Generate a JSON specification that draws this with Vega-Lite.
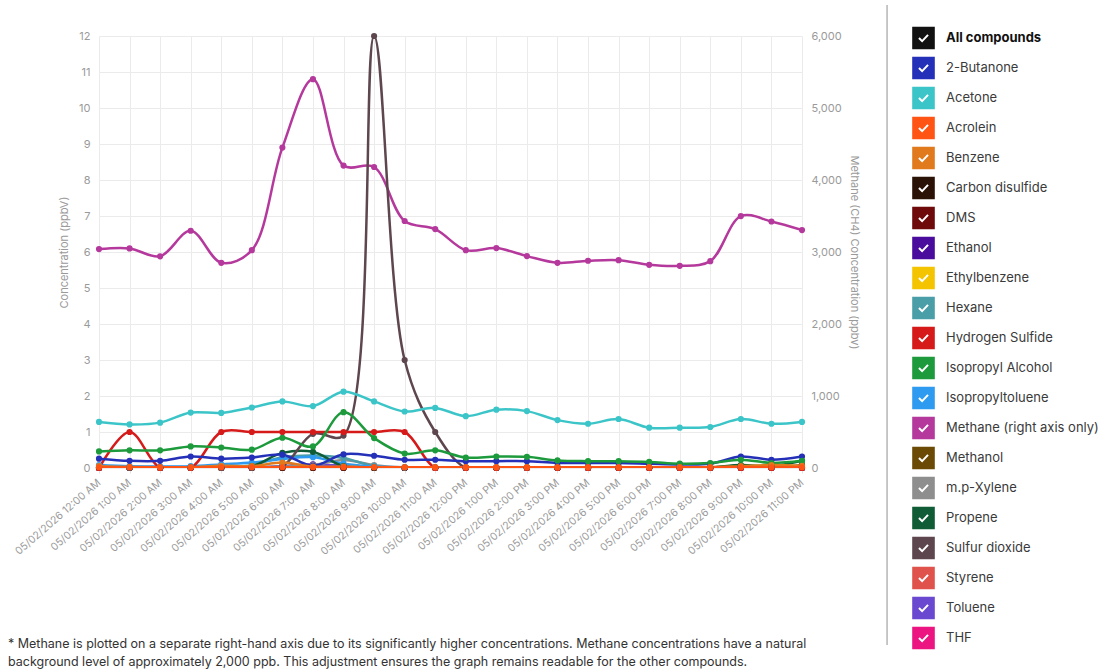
{
  "$schema": "https://vega.github.io/schema/vega-lite/v6.json",
  "autosize": {"type": "none"},
  "padding": {"left": 99, "top": 36, "right": 305, "bottom": 204},
  "width": 703,
  "height": 432,
  "background": "white",
  "title": {
    "text": [
      "* Methane is plotted on a separate right-hand axis due to its significantly higher concentrations. Methane concentrations have a natural",
      "background level of approximately 2,000 ppb. This adjustment ensures the graph remains readable for the other compounds."
    ],
    "orient": "bottom",
    "anchor": "start",
    "frame": "group",
    "dx": -91,
    "offset": -12,
    "fontSize": 12.5,
    "fontWeight": "normal",
    "color": "#333333",
    "lineHeight": 18.5,
    "font": "Inter"
  },
  "data": {
    "values": [
      {"h":"12:00 AM","c":"DMS","v":0},{"h":"1:00 AM","c":"DMS","v":0},{"h":"2:00 AM","c":"DMS","v":0},{"h":"3:00 AM","c":"DMS","v":0},{"h":"4:00 AM","c":"DMS","v":0},{"h":"5:00 AM","c":"DMS","v":0},{"h":"6:00 AM","c":"DMS","v":0},{"h":"7:00 AM","c":"DMS","v":0},{"h":"8:00 AM","c":"DMS","v":0},{"h":"9:00 AM","c":"DMS","v":0},{"h":"10:00 AM","c":"DMS","v":0},{"h":"11:00 AM","c":"DMS","v":0},{"h":"12:00 PM","c":"DMS","v":0},{"h":"1:00 PM","c":"DMS","v":0},{"h":"2:00 PM","c":"DMS","v":0},{"h":"3:00 PM","c":"DMS","v":0},{"h":"4:00 PM","c":"DMS","v":0},{"h":"5:00 PM","c":"DMS","v":0},{"h":"6:00 PM","c":"DMS","v":0},{"h":"7:00 PM","c":"DMS","v":0},{"h":"8:00 PM","c":"DMS","v":0},{"h":"9:00 PM","c":"DMS","v":0},{"h":"10:00 PM","c":"DMS","v":0},{"h":"11:00 PM","c":"DMS","v":0},
      {"h":"12:00 AM","c":"Ethylbenzene","v":0},{"h":"1:00 AM","c":"Ethylbenzene","v":0},{"h":"2:00 AM","c":"Ethylbenzene","v":0},{"h":"3:00 AM","c":"Ethylbenzene","v":0},{"h":"4:00 AM","c":"Ethylbenzene","v":0},{"h":"5:00 AM","c":"Ethylbenzene","v":0},{"h":"6:00 AM","c":"Ethylbenzene","v":0},{"h":"7:00 AM","c":"Ethylbenzene","v":0},{"h":"8:00 AM","c":"Ethylbenzene","v":0},{"h":"9:00 AM","c":"Ethylbenzene","v":0},{"h":"10:00 AM","c":"Ethylbenzene","v":0},{"h":"11:00 AM","c":"Ethylbenzene","v":0},{"h":"12:00 PM","c":"Ethylbenzene","v":0},{"h":"1:00 PM","c":"Ethylbenzene","v":0},{"h":"2:00 PM","c":"Ethylbenzene","v":0},{"h":"3:00 PM","c":"Ethylbenzene","v":0},{"h":"4:00 PM","c":"Ethylbenzene","v":0},{"h":"5:00 PM","c":"Ethylbenzene","v":0},{"h":"6:00 PM","c":"Ethylbenzene","v":0},{"h":"7:00 PM","c":"Ethylbenzene","v":0},{"h":"8:00 PM","c":"Ethylbenzene","v":0},{"h":"9:00 PM","c":"Ethylbenzene","v":0},{"h":"10:00 PM","c":"Ethylbenzene","v":0},{"h":"11:00 PM","c":"Ethylbenzene","v":0},
      {"h":"12:00 AM","c":"Methanol","v":0},{"h":"1:00 AM","c":"Methanol","v":0},{"h":"2:00 AM","c":"Methanol","v":0},{"h":"3:00 AM","c":"Methanol","v":0},{"h":"4:00 AM","c":"Methanol","v":0},{"h":"5:00 AM","c":"Methanol","v":0},{"h":"6:00 AM","c":"Methanol","v":0},{"h":"7:00 AM","c":"Methanol","v":0},{"h":"8:00 AM","c":"Methanol","v":0},{"h":"9:00 AM","c":"Methanol","v":0},{"h":"10:00 AM","c":"Methanol","v":0},{"h":"11:00 AM","c":"Methanol","v":0},{"h":"12:00 PM","c":"Methanol","v":0},{"h":"1:00 PM","c":"Methanol","v":0},{"h":"2:00 PM","c":"Methanol","v":0},{"h":"3:00 PM","c":"Methanol","v":0},{"h":"4:00 PM","c":"Methanol","v":0},{"h":"5:00 PM","c":"Methanol","v":0},{"h":"6:00 PM","c":"Methanol","v":0},{"h":"7:00 PM","c":"Methanol","v":0},{"h":"8:00 PM","c":"Methanol","v":0},{"h":"9:00 PM","c":"Methanol","v":0},{"h":"10:00 PM","c":"Methanol","v":0},{"h":"11:00 PM","c":"Methanol","v":0},
      {"h":"12:00 AM","c":"Styrene","v":0},{"h":"1:00 AM","c":"Styrene","v":0},{"h":"2:00 AM","c":"Styrene","v":0},{"h":"3:00 AM","c":"Styrene","v":0},{"h":"4:00 AM","c":"Styrene","v":0},{"h":"5:00 AM","c":"Styrene","v":0},{"h":"6:00 AM","c":"Styrene","v":0},{"h":"7:00 AM","c":"Styrene","v":0},{"h":"8:00 AM","c":"Styrene","v":0},{"h":"9:00 AM","c":"Styrene","v":0},{"h":"10:00 AM","c":"Styrene","v":0},{"h":"11:00 AM","c":"Styrene","v":0},{"h":"12:00 PM","c":"Styrene","v":0},{"h":"1:00 PM","c":"Styrene","v":0},{"h":"2:00 PM","c":"Styrene","v":0},{"h":"3:00 PM","c":"Styrene","v":0},{"h":"4:00 PM","c":"Styrene","v":0},{"h":"5:00 PM","c":"Styrene","v":0},{"h":"6:00 PM","c":"Styrene","v":0},{"h":"7:00 PM","c":"Styrene","v":0},{"h":"8:00 PM","c":"Styrene","v":0},{"h":"9:00 PM","c":"Styrene","v":0},{"h":"10:00 PM","c":"Styrene","v":0},{"h":"11:00 PM","c":"Styrene","v":0},
      {"h":"12:00 AM","c":"THF","v":0},{"h":"1:00 AM","c":"THF","v":0},{"h":"2:00 AM","c":"THF","v":0},{"h":"3:00 AM","c":"THF","v":0},{"h":"4:00 AM","c":"THF","v":0},{"h":"5:00 AM","c":"THF","v":0},{"h":"6:00 AM","c":"THF","v":0},{"h":"7:00 AM","c":"THF","v":0},{"h":"8:00 AM","c":"THF","v":0},{"h":"9:00 AM","c":"THF","v":0},{"h":"10:00 AM","c":"THF","v":0},{"h":"11:00 AM","c":"THF","v":0},{"h":"12:00 PM","c":"THF","v":0},{"h":"1:00 PM","c":"THF","v":0},{"h":"2:00 PM","c":"THF","v":0},{"h":"3:00 PM","c":"THF","v":0},{"h":"4:00 PM","c":"THF","v":0},{"h":"5:00 PM","c":"THF","v":0},{"h":"6:00 PM","c":"THF","v":0},{"h":"7:00 PM","c":"THF","v":0},{"h":"8:00 PM","c":"THF","v":0},{"h":"9:00 PM","c":"THF","v":0},{"h":"10:00 PM","c":"THF","v":0},{"h":"11:00 PM","c":"THF","v":0},
      {"h":"12:00 AM","c":"Ethanol","v":0},{"h":"1:00 AM","c":"Ethanol","v":0},{"h":"2:00 AM","c":"Ethanol","v":0},{"h":"3:00 AM","c":"Ethanol","v":0},{"h":"4:00 AM","c":"Ethanol","v":0},{"h":"5:00 AM","c":"Ethanol","v":0},{"h":"6:00 AM","c":"Ethanol","v":0.05},{"h":"7:00 AM","c":"Ethanol","v":0.1},{"h":"8:00 AM","c":"Ethanol","v":0.05},{"h":"9:00 AM","c":"Ethanol","v":0},{"h":"10:00 AM","c":"Ethanol","v":0},{"h":"11:00 AM","c":"Ethanol","v":0},{"h":"12:00 PM","c":"Ethanol","v":0},{"h":"1:00 PM","c":"Ethanol","v":0},{"h":"2:00 PM","c":"Ethanol","v":0},{"h":"3:00 PM","c":"Ethanol","v":0},{"h":"4:00 PM","c":"Ethanol","v":0},{"h":"5:00 PM","c":"Ethanol","v":0},{"h":"6:00 PM","c":"Ethanol","v":0},{"h":"7:00 PM","c":"Ethanol","v":0},{"h":"8:00 PM","c":"Ethanol","v":0},{"h":"9:00 PM","c":"Ethanol","v":0},{"h":"10:00 PM","c":"Ethanol","v":0},{"h":"11:00 PM","c":"Ethanol","v":0},
      {"h":"12:00 AM","c":"Toluene","v":0},{"h":"1:00 AM","c":"Toluene","v":0},{"h":"2:00 AM","c":"Toluene","v":0},{"h":"3:00 AM","c":"Toluene","v":0},{"h":"4:00 AM","c":"Toluene","v":0},{"h":"5:00 AM","c":"Toluene","v":0},{"h":"6:00 AM","c":"Toluene","v":0.02},{"h":"7:00 AM","c":"Toluene","v":0.06},{"h":"8:00 AM","c":"Toluene","v":0.08},{"h":"9:00 AM","c":"Toluene","v":0.02},{"h":"10:00 AM","c":"Toluene","v":0},{"h":"11:00 AM","c":"Toluene","v":0},{"h":"12:00 PM","c":"Toluene","v":0},{"h":"1:00 PM","c":"Toluene","v":0},{"h":"2:00 PM","c":"Toluene","v":0},{"h":"3:00 PM","c":"Toluene","v":0},{"h":"4:00 PM","c":"Toluene","v":0},{"h":"5:00 PM","c":"Toluene","v":0},{"h":"6:00 PM","c":"Toluene","v":0},{"h":"7:00 PM","c":"Toluene","v":0},{"h":"8:00 PM","c":"Toluene","v":0},{"h":"9:00 PM","c":"Toluene","v":0},{"h":"10:00 PM","c":"Toluene","v":0},{"h":"11:00 PM","c":"Toluene","v":0},
      {"h":"12:00 AM","c":"Carbon disulfide","v":0},{"h":"1:00 AM","c":"Carbon disulfide","v":0},{"h":"2:00 AM","c":"Carbon disulfide","v":0},{"h":"3:00 AM","c":"Carbon disulfide","v":0},{"h":"4:00 AM","c":"Carbon disulfide","v":0},{"h":"5:00 AM","c":"Carbon disulfide","v":0},{"h":"6:00 AM","c":"Carbon disulfide","v":0},{"h":"7:00 AM","c":"Carbon disulfide","v":0},{"h":"8:00 AM","c":"Carbon disulfide","v":0},{"h":"9:00 AM","c":"Carbon disulfide","v":0},{"h":"10:00 AM","c":"Carbon disulfide","v":0},{"h":"11:00 AM","c":"Carbon disulfide","v":0},{"h":"12:00 PM","c":"Carbon disulfide","v":0},{"h":"1:00 PM","c":"Carbon disulfide","v":0},{"h":"2:00 PM","c":"Carbon disulfide","v":0},{"h":"3:00 PM","c":"Carbon disulfide","v":0},{"h":"4:00 PM","c":"Carbon disulfide","v":0},{"h":"5:00 PM","c":"Carbon disulfide","v":0},{"h":"6:00 PM","c":"Carbon disulfide","v":0},{"h":"7:00 PM","c":"Carbon disulfide","v":0},{"h":"8:00 PM","c":"Carbon disulfide","v":0.01},{"h":"9:00 PM","c":"Carbon disulfide","v":0.06},{"h":"10:00 PM","c":"Carbon disulfide","v":0.02},{"h":"11:00 PM","c":"Carbon disulfide","v":0.08},
      {"h":"12:00 AM","c":"m.p-Xylene","v":0},{"h":"1:00 AM","c":"m.p-Xylene","v":0},{"h":"2:00 AM","c":"m.p-Xylene","v":0},{"h":"3:00 AM","c":"m.p-Xylene","v":0},{"h":"4:00 AM","c":"m.p-Xylene","v":0},{"h":"5:00 AM","c":"m.p-Xylene","v":0.02},{"h":"6:00 AM","c":"m.p-Xylene","v":0.04},{"h":"7:00 AM","c":"m.p-Xylene","v":0.08},{"h":"8:00 AM","c":"m.p-Xylene","v":0.22},{"h":"9:00 AM","c":"m.p-Xylene","v":0.08},{"h":"10:00 AM","c":"m.p-Xylene","v":0.02},{"h":"11:00 AM","c":"m.p-Xylene","v":0},{"h":"12:00 PM","c":"m.p-Xylene","v":0},{"h":"1:00 PM","c":"m.p-Xylene","v":0},{"h":"2:00 PM","c":"m.p-Xylene","v":0},{"h":"3:00 PM","c":"m.p-Xylene","v":0},{"h":"4:00 PM","c":"m.p-Xylene","v":0},{"h":"5:00 PM","c":"m.p-Xylene","v":0},{"h":"6:00 PM","c":"m.p-Xylene","v":0},{"h":"7:00 PM","c":"m.p-Xylene","v":0},{"h":"8:00 PM","c":"m.p-Xylene","v":0},{"h":"9:00 PM","c":"m.p-Xylene","v":0},{"h":"10:00 PM","c":"m.p-Xylene","v":0},{"h":"11:00 PM","c":"m.p-Xylene","v":0},
      {"h":"12:00 AM","c":"Hexane","v":0.05},{"h":"1:00 AM","c":"Hexane","v":0.03},{"h":"2:00 AM","c":"Hexane","v":0.03},{"h":"3:00 AM","c":"Hexane","v":0.03},{"h":"4:00 AM","c":"Hexane","v":0.05},{"h":"5:00 AM","c":"Hexane","v":0.08},{"h":"6:00 AM","c":"Hexane","v":0.3},{"h":"7:00 AM","c":"Hexane","v":0.35},{"h":"8:00 AM","c":"Hexane","v":0.28},{"h":"9:00 AM","c":"Hexane","v":0.05},{"h":"10:00 AM","c":"Hexane","v":0.02},{"h":"11:00 AM","c":"Hexane","v":0.02},{"h":"12:00 PM","c":"Hexane","v":0.02},{"h":"1:00 PM","c":"Hexane","v":0.02},{"h":"2:00 PM","c":"Hexane","v":0.02},{"h":"3:00 PM","c":"Hexane","v":0.02},{"h":"4:00 PM","c":"Hexane","v":0.02},{"h":"5:00 PM","c":"Hexane","v":0.02},{"h":"6:00 PM","c":"Hexane","v":0.02},{"h":"7:00 PM","c":"Hexane","v":0.02},{"h":"8:00 PM","c":"Hexane","v":0.02},{"h":"9:00 PM","c":"Hexane","v":0.02},{"h":"10:00 PM","c":"Hexane","v":0.02},{"h":"11:00 PM","c":"Hexane","v":0.02},
      {"h":"12:00 AM","c":"Isopropyltoluene","v":0.08},{"h":"1:00 AM","c":"Isopropyltoluene","v":0.05},{"h":"2:00 AM","c":"Isopropyltoluene","v":0.04},{"h":"3:00 AM","c":"Isopropyltoluene","v":0.05},{"h":"4:00 AM","c":"Isopropyltoluene","v":0.1},{"h":"5:00 AM","c":"Isopropyltoluene","v":0.15},{"h":"6:00 AM","c":"Isopropyltoluene","v":0.25},{"h":"7:00 AM","c":"Isopropyltoluene","v":0.3},{"h":"8:00 AM","c":"Isopropyltoluene","v":0.12},{"h":"9:00 AM","c":"Isopropyltoluene","v":0.04},{"h":"10:00 AM","c":"Isopropyltoluene","v":0.02},{"h":"11:00 AM","c":"Isopropyltoluene","v":0.02},{"h":"12:00 PM","c":"Isopropyltoluene","v":0.02},{"h":"1:00 PM","c":"Isopropyltoluene","v":0.02},{"h":"2:00 PM","c":"Isopropyltoluene","v":0.02},{"h":"3:00 PM","c":"Isopropyltoluene","v":0.02},{"h":"4:00 PM","c":"Isopropyltoluene","v":0.02},{"h":"5:00 PM","c":"Isopropyltoluene","v":0.02},{"h":"6:00 PM","c":"Isopropyltoluene","v":0.02},{"h":"7:00 PM","c":"Isopropyltoluene","v":0.02},{"h":"8:00 PM","c":"Isopropyltoluene","v":0.02},{"h":"9:00 PM","c":"Isopropyltoluene","v":0.02},{"h":"10:00 PM","c":"Isopropyltoluene","v":0.02},{"h":"11:00 PM","c":"Isopropyltoluene","v":0.02},
      {"h":"12:00 AM","c":"Propene","v":0.02},{"h":"1:00 AM","c":"Propene","v":0.02},{"h":"2:00 AM","c":"Propene","v":0.02},{"h":"3:00 AM","c":"Propene","v":0.02},{"h":"4:00 AM","c":"Propene","v":0.02},{"h":"5:00 AM","c":"Propene","v":0.05},{"h":"6:00 AM","c":"Propene","v":0.42},{"h":"7:00 AM","c":"Propene","v":0.45},{"h":"8:00 AM","c":"Propene","v":0.05},{"h":"9:00 AM","c":"Propene","v":0.02},{"h":"10:00 AM","c":"Propene","v":0.02},{"h":"11:00 AM","c":"Propene","v":0.02},{"h":"12:00 PM","c":"Propene","v":0.02},{"h":"1:00 PM","c":"Propene","v":0.02},{"h":"2:00 PM","c":"Propene","v":0.02},{"h":"3:00 PM","c":"Propene","v":0.02},{"h":"4:00 PM","c":"Propene","v":0.02},{"h":"5:00 PM","c":"Propene","v":0.02},{"h":"6:00 PM","c":"Propene","v":0.02},{"h":"7:00 PM","c":"Propene","v":0.02},{"h":"8:00 PM","c":"Propene","v":0.02},{"h":"9:00 PM","c":"Propene","v":0.08},{"h":"10:00 PM","c":"Propene","v":0.05},{"h":"11:00 PM","c":"Propene","v":0.2},
      {"h":"12:00 AM","c":"Sulfur dioxide","v":0},{"h":"1:00 AM","c":"Sulfur dioxide","v":0},{"h":"2:00 AM","c":"Sulfur dioxide","v":0},{"h":"3:00 AM","c":"Sulfur dioxide","v":0},{"h":"4:00 AM","c":"Sulfur dioxide","v":0},{"h":"5:00 AM","c":"Sulfur dioxide","v":0},{"h":"6:00 AM","c":"Sulfur dioxide","v":0.05},{"h":"7:00 AM","c":"Sulfur dioxide","v":0.95},{"h":"8:00 AM","c":"Sulfur dioxide","v":0.9},{"h":"9:00 AM","c":"Sulfur dioxide","v":12},{"h":"10:00 AM","c":"Sulfur dioxide","v":3},{"h":"11:00 AM","c":"Sulfur dioxide","v":1},{"h":"12:00 PM","c":"Sulfur dioxide","v":0},{"h":"1:00 PM","c":"Sulfur dioxide","v":0},{"h":"2:00 PM","c":"Sulfur dioxide","v":0},{"h":"3:00 PM","c":"Sulfur dioxide","v":0},{"h":"4:00 PM","c":"Sulfur dioxide","v":0},{"h":"5:00 PM","c":"Sulfur dioxide","v":0},{"h":"6:00 PM","c":"Sulfur dioxide","v":0},{"h":"7:00 PM","c":"Sulfur dioxide","v":0},{"h":"8:00 PM","c":"Sulfur dioxide","v":0},{"h":"9:00 PM","c":"Sulfur dioxide","v":0},{"h":"10:00 PM","c":"Sulfur dioxide","v":0},{"h":"11:00 PM","c":"Sulfur dioxide","v":0},
      {"h":"12:00 AM","c":"Hydrogen Sulfide","v":0},{"h":"1:00 AM","c":"Hydrogen Sulfide","v":1},{"h":"2:00 AM","c":"Hydrogen Sulfide","v":0},{"h":"3:00 AM","c":"Hydrogen Sulfide","v":0},{"h":"4:00 AM","c":"Hydrogen Sulfide","v":1},{"h":"5:00 AM","c":"Hydrogen Sulfide","v":1},{"h":"6:00 AM","c":"Hydrogen Sulfide","v":1},{"h":"7:00 AM","c":"Hydrogen Sulfide","v":1},{"h":"8:00 AM","c":"Hydrogen Sulfide","v":1},{"h":"9:00 AM","c":"Hydrogen Sulfide","v":1},{"h":"10:00 AM","c":"Hydrogen Sulfide","v":1},{"h":"11:00 AM","c":"Hydrogen Sulfide","v":0},{"h":"12:00 PM","c":"Hydrogen Sulfide","v":0},{"h":"1:00 PM","c":"Hydrogen Sulfide","v":0},{"h":"2:00 PM","c":"Hydrogen Sulfide","v":0},{"h":"3:00 PM","c":"Hydrogen Sulfide","v":0},{"h":"4:00 PM","c":"Hydrogen Sulfide","v":0},{"h":"5:00 PM","c":"Hydrogen Sulfide","v":0},{"h":"6:00 PM","c":"Hydrogen Sulfide","v":0},{"h":"7:00 PM","c":"Hydrogen Sulfide","v":0},{"h":"8:00 PM","c":"Hydrogen Sulfide","v":0},{"h":"9:00 PM","c":"Hydrogen Sulfide","v":0},{"h":"10:00 PM","c":"Hydrogen Sulfide","v":0},{"h":"11:00 PM","c":"Hydrogen Sulfide","v":0},
      {"h":"12:00 AM","c":"2-Butanone","v":0.26},{"h":"1:00 AM","c":"2-Butanone","v":0.2},{"h":"2:00 AM","c":"2-Butanone","v":0.2},{"h":"3:00 AM","c":"2-Butanone","v":0.32},{"h":"4:00 AM","c":"2-Butanone","v":0.26},{"h":"5:00 AM","c":"2-Butanone","v":0.29},{"h":"6:00 AM","c":"2-Butanone","v":0.37},{"h":"7:00 AM","c":"2-Butanone","v":0.06},{"h":"8:00 AM","c":"2-Butanone","v":0.38},{"h":"9:00 AM","c":"2-Butanone","v":0.34},{"h":"10:00 AM","c":"2-Butanone","v":0.23},{"h":"11:00 AM","c":"2-Butanone","v":0.23},{"h":"12:00 PM","c":"2-Butanone","v":0.19},{"h":"1:00 PM","c":"2-Butanone","v":0.19},{"h":"2:00 PM","c":"2-Butanone","v":0.19},{"h":"3:00 PM","c":"2-Butanone","v":0.14},{"h":"4:00 PM","c":"2-Butanone","v":0.14},{"h":"5:00 PM","c":"2-Butanone","v":0.14},{"h":"6:00 PM","c":"2-Butanone","v":0.12},{"h":"7:00 PM","c":"2-Butanone","v":0.1},{"h":"8:00 PM","c":"2-Butanone","v":0.12},{"h":"9:00 PM","c":"2-Butanone","v":0.32},{"h":"10:00 PM","c":"2-Butanone","v":0.23},{"h":"11:00 PM","c":"2-Butanone","v":0.32},
      {"h":"12:00 AM","c":"Isopropyl Alcohol","v":0.46},{"h":"1:00 AM","c":"Isopropyl Alcohol","v":0.49},{"h":"2:00 AM","c":"Isopropyl Alcohol","v":0.49},{"h":"3:00 AM","c":"Isopropyl Alcohol","v":0.6},{"h":"4:00 AM","c":"Isopropyl Alcohol","v":0.57},{"h":"5:00 AM","c":"Isopropyl Alcohol","v":0.51},{"h":"6:00 AM","c":"Isopropyl Alcohol","v":0.84},{"h":"7:00 AM","c":"Isopropyl Alcohol","v":0.6},{"h":"8:00 AM","c":"Isopropyl Alcohol","v":1.55},{"h":"9:00 AM","c":"Isopropyl Alcohol","v":0.83},{"h":"10:00 AM","c":"Isopropyl Alcohol","v":0.4},{"h":"11:00 AM","c":"Isopropyl Alcohol","v":0.49},{"h":"12:00 PM","c":"Isopropyl Alcohol","v":0.29},{"h":"1:00 PM","c":"Isopropyl Alcohol","v":0.32},{"h":"2:00 PM","c":"Isopropyl Alcohol","v":0.31},{"h":"3:00 PM","c":"Isopropyl Alcohol","v":0.21},{"h":"4:00 PM","c":"Isopropyl Alcohol","v":0.19},{"h":"5:00 PM","c":"Isopropyl Alcohol","v":0.19},{"h":"6:00 PM","c":"Isopropyl Alcohol","v":0.17},{"h":"7:00 PM","c":"Isopropyl Alcohol","v":0.12},{"h":"8:00 PM","c":"Isopropyl Alcohol","v":0.14},{"h":"9:00 PM","c":"Isopropyl Alcohol","v":0.23},{"h":"10:00 PM","c":"Isopropyl Alcohol","v":0.14},{"h":"11:00 PM","c":"Isopropyl Alcohol","v":0.2},
      {"h":"12:00 AM","c":"Acetone","v":1.28},{"h":"1:00 AM","c":"Acetone","v":1.21},{"h":"2:00 AM","c":"Acetone","v":1.26},{"h":"3:00 AM","c":"Acetone","v":1.54},{"h":"4:00 AM","c":"Acetone","v":1.53},{"h":"5:00 AM","c":"Acetone","v":1.68},{"h":"6:00 AM","c":"Acetone","v":1.85},{"h":"7:00 AM","c":"Acetone","v":1.72},{"h":"8:00 AM","c":"Acetone","v":2.12},{"h":"9:00 AM","c":"Acetone","v":1.85},{"h":"10:00 AM","c":"Acetone","v":1.57},{"h":"11:00 AM","c":"Acetone","v":1.67},{"h":"12:00 PM","c":"Acetone","v":1.44},{"h":"1:00 PM","c":"Acetone","v":1.62},{"h":"2:00 PM","c":"Acetone","v":1.58},{"h":"3:00 PM","c":"Acetone","v":1.33},{"h":"4:00 PM","c":"Acetone","v":1.23},{"h":"5:00 PM","c":"Acetone","v":1.36},{"h":"6:00 PM","c":"Acetone","v":1.12},{"h":"7:00 PM","c":"Acetone","v":1.12},{"h":"8:00 PM","c":"Acetone","v":1.14},{"h":"9:00 PM","c":"Acetone","v":1.36},{"h":"10:00 PM","c":"Acetone","v":1.23},{"h":"11:00 PM","c":"Acetone","v":1.28},
      {"h":"12:00 AM","c":"Benzene","v":0.05},{"h":"1:00 AM","c":"Benzene","v":0.03},{"h":"2:00 AM","c":"Benzene","v":0.02},{"h":"3:00 AM","c":"Benzene","v":0.02},{"h":"4:00 AM","c":"Benzene","v":0.06},{"h":"5:00 AM","c":"Benzene","v":0.05},{"h":"6:00 AM","c":"Benzene","v":0.15},{"h":"7:00 AM","c":"Benzene","v":0.04},{"h":"8:00 AM","c":"Benzene","v":0.04},{"h":"9:00 AM","c":"Benzene","v":0.02},{"h":"10:00 AM","c":"Benzene","v":0.02},{"h":"11:00 AM","c":"Benzene","v":0.02},{"h":"12:00 PM","c":"Benzene","v":0.02},{"h":"1:00 PM","c":"Benzene","v":0.02},{"h":"2:00 PM","c":"Benzene","v":0.02},{"h":"3:00 PM","c":"Benzene","v":0.02},{"h":"4:00 PM","c":"Benzene","v":0.02},{"h":"5:00 PM","c":"Benzene","v":0.02},{"h":"6:00 PM","c":"Benzene","v":0.02},{"h":"7:00 PM","c":"Benzene","v":0.02},{"h":"8:00 PM","c":"Benzene","v":0.02},{"h":"9:00 PM","c":"Benzene","v":0.05},{"h":"10:00 PM","c":"Benzene","v":0.08},{"h":"11:00 PM","c":"Benzene","v":0.06},
      {"h":"12:00 AM","c":"Acrolein","v":0.02},{"h":"1:00 AM","c":"Acrolein","v":0.02},{"h":"2:00 AM","c":"Acrolein","v":0.02},{"h":"3:00 AM","c":"Acrolein","v":0.02},{"h":"4:00 AM","c":"Acrolein","v":0.02},{"h":"5:00 AM","c":"Acrolein","v":0.02},{"h":"6:00 AM","c":"Acrolein","v":0.02},{"h":"7:00 AM","c":"Acrolein","v":0.02},{"h":"8:00 AM","c":"Acrolein","v":0.02},{"h":"9:00 AM","c":"Acrolein","v":0.02},{"h":"10:00 AM","c":"Acrolein","v":0.02},{"h":"11:00 AM","c":"Acrolein","v":0.02},{"h":"12:00 PM","c":"Acrolein","v":0.02},{"h":"1:00 PM","c":"Acrolein","v":0.02},{"h":"2:00 PM","c":"Acrolein","v":0.02},{"h":"3:00 PM","c":"Acrolein","v":0.02},{"h":"4:00 PM","c":"Acrolein","v":0.02},{"h":"5:00 PM","c":"Acrolein","v":0.02},{"h":"6:00 PM","c":"Acrolein","v":0.02},{"h":"7:00 PM","c":"Acrolein","v":0.02},{"h":"8:00 PM","c":"Acrolein","v":0.02},{"h":"9:00 PM","c":"Acrolein","v":0.02},{"h":"10:00 PM","c":"Acrolein","v":0.02},{"h":"11:00 PM","c":"Acrolein","v":0.02},
      {"h":"12:00 AM","c":"Methane (right axis only)","v":3040},{"h":"1:00 AM","c":"Methane (right axis only)","v":3050},{"h":"2:00 AM","c":"Methane (right axis only)","v":2940},{"h":"3:00 AM","c":"Methane (right axis only)","v":3295},{"h":"4:00 AM","c":"Methane (right axis only)","v":2850},{"h":"5:00 AM","c":"Methane (right axis only)","v":3025},{"h":"6:00 AM","c":"Methane (right axis only)","v":4450},{"h":"7:00 AM","c":"Methane (right axis only)","v":5400},{"h":"8:00 AM","c":"Methane (right axis only)","v":4200},{"h":"9:00 AM","c":"Methane (right axis only)","v":4180},{"h":"10:00 AM","c":"Methane (right axis only)","v":3430},{"h":"11:00 AM","c":"Methane (right axis only)","v":3318},{"h":"12:00 PM","c":"Methane (right axis only)","v":3026},{"h":"1:00 PM","c":"Methane (right axis only)","v":3054},{"h":"2:00 PM","c":"Methane (right axis only)","v":2943},{"h":"3:00 PM","c":"Methane (right axis only)","v":2850},{"h":"4:00 PM","c":"Methane (right axis only)","v":2878},{"h":"5:00 PM","c":"Methane (right axis only)","v":2887},{"h":"6:00 PM","c":"Methane (right axis only)","v":2822},{"h":"7:00 PM","c":"Methane (right axis only)","v":2808},{"h":"8:00 PM","c":"Methane (right axis only)","v":2873},{"h":"9:00 PM","c":"Methane (right axis only)","v":3499},{"h":"10:00 PM","c":"Methane (right axis only)","v":3424},{"h":"11:00 PM","c":"Methane (right axis only)","v":3304}
    ]
  },
  "layer": [
    {
      "encoding": {
        "x": {
          "field": "h",
          "type": "ordinal",
          "sort": ["12:00 AM","1:00 AM","2:00 AM","3:00 AM","4:00 AM","5:00 AM","6:00 AM","7:00 AM","8:00 AM","9:00 AM","10:00 AM","11:00 AM","12:00 PM","1:00 PM","2:00 PM","3:00 PM","4:00 PM","5:00 PM","6:00 PM","7:00 PM","8:00 PM","9:00 PM","10:00 PM","11:00 PM"],
          "scale": {"type": "point", "padding": 0},
          "axis": {
            "title": null,
            "labelAngle": -41,
            "labelAlign": "right",
            "labelBaseline": "middle",
            "labelExpr": "'05/02/2026 ' + datum.label",
            "labelFontSize": 10.5,
            "labelPadding": 8,
            "grid": true,
            "ticks": true,
            "tickSize": 5,
            "tickColor": "#e2e2e2",
            "domain": false
          }
        },
        "color": {
          "field": "c",
          "type": "nominal",
          "scale": {
            "domain": ["All compounds","2-Butanone","Acetone","Acrolein","Benzene","Carbon disulfide","DMS","Ethanol","Ethylbenzene","Hexane","Hydrogen Sulfide","Isopropyl Alcohol","Isopropyltoluene","Methane (right axis only)","Methanol","m.p-Xylene","Propene","Sulfur dioxide","Styrene","Toluene","THF"],
            "range": ["#111111","#2430b8","#3cc5c8","#ff5414","#e07a1c","#2b1207","#6e0a0a","#4a0c9c","#f4c400","#4a9ea8","#d61a1a","#1c9a3c","#2f9bf0","#b5399c","#6b4a05","#8e8e8e","#0f5c36","#5e464e","#e0534c","#6a48d0","#ec1480"]
          },
          "legend": {
            "orient": "none",
            "legendX": 813,
            "legendY": -9.5,
            "title": null,
            "padding": 0,
            "direction": "vertical",
            "columns": 1,
            "symbolType": "M-1,-1H1V1H-1Z M-0.464,0.064L-0.12,0.40L0.466,-0.219L0.334,-0.341L-0.12,0.153L-0.336,-0.064Z",
            "symbolSize": 511,
            "symbolStrokeWidth": 0,
            "rowPadding": 7.0,
            "labelOffset": 11,
            "labelFontSize": 13,
            "labelFont": "Inter",
            "labelColor": "#3a3a3a",
            "labelLimit": 300,
            "encode": {
              "symbols": {
                "update": {
                  "fill": {"scale": "color", "field": "value"},
                  "stroke": {"value": "transparent"},
                  "opacity": {"value": 1}
                }
              },
              "labels": {
                "update": {
                  "fontWeight": {"signal": "datum.label === 'All compounds' ? 700 : 400"},
                  "fill": {"signal": "datum.label === 'All compounds' ? '#111111' : '#3a3a3a'"}
                }
              }
            }
          }
        }
      },
      "layer": [
        {
          "transform": [{"filter": "datum.c === 'Methane (right axis only)'"}],
          "encoding": {
            "y": {
              "field": "v",
              "type": "quantitative",
              "scale": {"domain": [0, 6000], "nice": false},
              "axis": {
                "orient": "right",
                "values": [0, 1000, 2000, 3000, 4000, 5000, 6000],
                "format": ",.0f",
                "grid": false,
                "ticks": false,
                "domain": false,
                "labelPadding": 9,
                "title": "Methane (CH4) Concentration (ppbv)",
                "titlePadding": 7
              }
            }
          },
          "layer": [
            {"mark": {"type": "line", "interpolate": "catmull-rom", "strokeWidth": 2.5, "clip": true}},
            {"mark": {"type": "point", "filled": true, "size": 38, "opacity": 1}}
          ]
        },
        {
          "transform": [{"filter": "datum.c !== 'Methane (right axis only)'"}],
          "encoding": {
            "y": {
              "field": "v",
              "type": "quantitative",
              "scale": {"domain": [0, 12], "nice": false},
              "axis": {
                "orient": "left",
                "values": [0, 1, 2, 3, 4, 5, 6, 7, 8, 9, 10, 11, 12],
                "grid": true,
                "ticks": false,
                "domain": false,
                "labelPadding": 9,
                "title": "Concentration (ppbV)",
                "titlePadding": 9
              }
            }
          },
          "layer": [
            {"mark": {"type": "line", "interpolate": "catmull-rom", "strokeWidth": 2.5, "clip": true}},
            {"mark": {"type": "point", "filled": true, "size": 38, "opacity": 1}}
          ]
        }
      ],
      "resolve": {"scale": {"y": "independent"}}
    },
    {
      "data": {"values": [{"sep": 1}]},
      "mark": {"type": "rule", "color": "#b5b5b5", "strokeWidth": 1.5, "clip": false},
      "encoding": {
        "x": {"datum": 1.121, "type": "quantitative", "scale": {"domain": [0, 1], "nice": false, "zero": false}, "axis": null},
        "y": {"datum": -0.41, "type": "quantitative", "scale": {"domain": [0, 1], "nice": false, "zero": false}, "axis": null},
        "y2": {"datum": 1.072}
      }
    }
  ],
  "resolve": {"scale": {"x": "independent", "y": "independent"}},
  "config": {
    "font": "Inter",
    "view": {"stroke": null},
    "axis": {
      "labelColor": "#9a9a9a",
      "labelFontSize": 11,
      "labelFont": "Inter",
      "titleColor": "#9a9a9a",
      "titleFontSize": 11,
      "titleFontWeight": "normal",
      "titleFont": "Inter",
      "gridColor": "#ebebeb",
      "gridWidth": 1
    }
  }
}
